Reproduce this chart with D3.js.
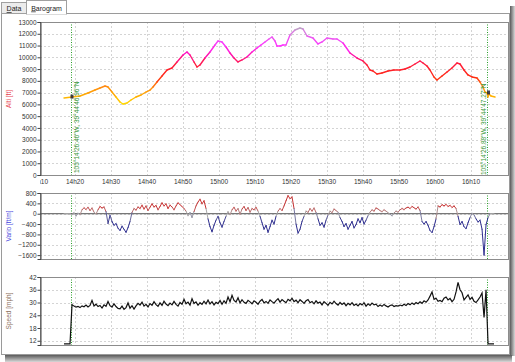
<!DOCTYPE html>
<html><head><meta charset="utf-8">
<script src="https://cdn.jsdelivr.net/npm/d3@7/dist/d3.min.js"></script>
<style>
body{margin:0;background:#fff;}
svg{display:block;font-family:"Liberation Sans",Arial,sans-serif;}
</style>
</head><body>
<svg id="chart" width="515" height="362"></svg>
<script>
// ---------- data ----------
const tabLabels = ["Data", "Barogram"];
const timeTicks = [10, 20, 30, 40, 50, 60, 70, 80, 90, 100, 110, 120, 130]; // minutes after 14h00
const timeLabels = ["14h10","14h20","14h30","14h40","14h50","15h00","15h10","15h20","15h30","15h40","15h50","16h00","16h10"];
const altTicks = [0,1000,2000,3000,4000,5000,6000,7000,8000,9000,10000,11000,12000,13000];
const varioTicks = [800,400,0,-400,-800,-1200,-1600];
const speedTicks = [12,18,24,30,36,42];
const altLabel = "Alti [ft]";
const varioLabel = "Vario [ft/m]";
const speedLabel = "Speed [mph]";
const markerTimes = [18.89, 134.45];
const markerLabels = ["105°14'26.46\"W, 39°44'46.96\"N", "105°14'26.88\"W, 39°44'47.27\"N"];

// altitude (ft) at irregular times (minutes after 14h00)
const altTime = [16.95,19.17,21.39,23.61,25.56,26.95,28.34,29.17,30.28,31.39,32.50,33.34,34.45,35.56,36.95,38.34,39.72,40.84,41.67,42.78,44.17,45.56,46.95,48.34,50.00,51.11,51.95,53.06,53.89,54.72,56.11,57.50,58.89,59.72,60.84,61.95,63.06,64.17,65.28,66.39,67.78,69.17,70.56,71.67,72.78,73.89,74.72,75.56,76.11,76.95,77.78,78.61,79.72,81.11,82.50,83.34,84.45,86.11,87.50,88.61,90.00,91.67,92.78,94.45,96.39,98.34,100.00,101.11,101.95,102.78,103.89,105.28,106.95,108.61,110.28,111.67,113.06,114.45,115.84,116.67,117.78,118.61,119.72,120.56,121.95,123.34,124.72,126.11,126.95,128.06,129.17,130.28,131.67,132.50,133.34,133.89,134.45,134.72,135.00,135.56,136.67];
const altValue = [6543,6628,6713,6968,7222,7392,7562,7477,7052,6628,6203,6033,6118,6373,6628,6798,7052,7222,7477,7902,8412,8922,9092,9602,10196,10451,10196,9602,9177,9347,9941,10451,11046,11386,11301,10876,10366,9941,9602,9772,10026,10451,10791,11046,11301,11556,11726,11386,10961,10961,11046,11046,11896,12321,12491,12406,11811,11641,11131,11301,11641,11556,11556,11216,10366,9941,9687,9347,8922,8837,8582,8667,8837,8922,8922,9007,9177,9432,9687,9517,9262,8922,8327,8072,8412,8752,9092,9517,9432,8922,8497,8327,8242,7902,7477,7052,6968,6628,6883,6713,6628];

// vario & speed sampled every ~33 s starting 14h16m57s
const sampleStart = 16.95;   // minutes after 14h00
const sampleStep = 0.5556;   // minutes
const varioValue = [
0,0,0,0,-30,40,-90,20,-40,150,
230,160,250,120,220,60,-10,150,280,220,
260,80,-380,-60,-300,-450,-380,-560,-650,-480,
-600,-720,-540,-300,50,200,140,260,200,330,
180,300,120,250,380,260,320,150,280,420,
300,380,200,330,260,150,300,420,350,280,
200,100,-80,50,-150,80,300,450,560,380,
500,200,-200,-500,-700,-450,-250,-100,-350,-520,
-300,-100,80,-40,150,250,100,200,-20,180,
280,120,240,60,200,150,250,100,-100,-350,
-600,-450,-720,-500,-250,-400,-100,100,200,120,
300,500,700,580,650,200,-400,-750,-600,-300,
-100,100,50,200,100,220,50,-200,-450,-350,
-520,-250,-50,100,40,180,120,60,-150,-300,
-500,-380,-600,-450,-300,-550,-420,-200,-350,-150,
-400,-250,-80,60,150,100,220,180,120,80,
150,100,40,-20,-80,30,100,60,150,200,
160,220,250,200,280,230,180,260,120,-300,
-400,-300,-450,-650,-730,-500,-200,300,260,350,
300,360,280,320,240,300,200,-100,-420,-300,
-500,-580,-350,-150,20,-50,-200,-320,-250,-600,
-1600,-420,-150,0,0,0];
const speedValue = [
10.5,10.5,10.5,10.5,29,28.3,27.8,28.2,27.6,28.4,
28,28.8,27.9,28.6,31,28.4,29.2,28.1,28.6,27.4,
28.9,28.2,30.5,28.5,27.8,29.4,28.1,27.2,27,28.3,
26.8,27.6,29.8,27.3,28.5,26.9,28.4,29.6,28.8,30.2,
28.3,29.1,27.9,29.5,28.7,30.4,29,28.2,29.8,28.6,
30.6,29.3,28.5,29.7,28.9,30.5,29.1,28.3,30,29.2,
31.5,29.4,30.2,28.8,31.8,29.5,30.3,28.7,29.9,29.1,
30.6,29.4,31.2,29.3,30.4,28.9,30.1,29.5,31,29.2,
30.8,29.6,32.6,30.4,33.4,31,30.2,32.2,29.8,31.3,
30.1,29.6,31,30.3,29.4,30.8,30.1,29.2,30.6,31.4,
29.8,30.5,29.6,31.2,30.4,29.7,30.9,31.8,30.2,31.4,
30.6,29.9,31.5,30.8,32,30.4,31.1,29.9,31.3,30.5,
29.6,30.8,31.4,29.9,30.5,29.4,30.8,29.7,30.2,28.9,
30.4,29.6,28.7,30.1,29.3,30.6,29.5,28.8,30,29.1,
29.8,28.5,29.6,28.9,29.9,28.6,29.3,28.4,29.5,28.8,
29.9,28.3,29.4,28.6,29.7,28.9,29.2,28.1,28.8,28.2,
29.1,28.4,27.9,28.6,28.9,28.1,28.5,28.3,28.8,28.4,
29.2,28.6,29.5,28.9,29.8,29.1,30,29.4,30.3,29.6,
30.8,30.1,31.2,33,35,31.5,32,30.6,31,30.4,
32,32.6,31.2,31.9,30.4,31.5,35,39.5,36,34.6,
31.2,32.4,33.6,31.4,32.4,30.6,30,31.2,32.6,34.5,
23,36,10.5,10.5,10.5,10.5];

// ---------- drawing ----------
const svg = d3.select("#chart");
const L = 40, R = 508;
const x = d3.scaleLinear().domain([10.28, 140.28]).range([L, R]);
const sampleTime = varioValue.map((_, i) => sampleStart + i * sampleStep);

const panels = [
  {top: 22, bottom: 175, y: d3.scaleLinear().domain([0, 13000]).range([175, 22]), ticks: altTicks, label: altLabel, labelColor: "#e8454f", labelY: 99},
  {top: 193, bottom: 259, y: d3.scaleLinear().domain([-1750, 800]).range([259, 193]), ticks: varioTicks, label: varioLabel, labelColor: "#4a4ae0", labelY: 226},
  {top: 277, bottom: 345, y: d3.scaleLinear().domain([10, 42]).range([345, 277]), ticks: speedTicks, label: speedLabel, labelColor: "#8a6e5a", labelY: 311}
];

// window frame & shadow
const defs = svg.append("defs");
const gR = defs.append("linearGradient").attr("id","shR").attr("x1",0).attr("x2",1).attr("y1",0).attr("y2",0);
gR.append("stop").attr("offset",0).attr("stop-color","#5a5a5a");
gR.append("stop").attr("offset",1).attr("stop-color","#d8d8d8");
const gB = defs.append("linearGradient").attr("id","shB").attr("x1",0).attr("x2",0).attr("y1",0).attr("y2",1);
gB.append("stop").attr("offset",0).attr("stop-color","#5a5a5a");
gB.append("stop").attr("offset",1).attr("stop-color","#d8d8d8");
svg.append("rect").attr("x",510).attr("y",6).attr("width",5).attr("height",350).attr("fill","url(#shR)");
svg.append("rect").attr("x",5).attr("y",355).attr("width",507).attr("height",7).attr("fill","url(#shB)");
svg.append("rect").attr("x",1.5).attr("y",13.5).attr("width",508).attr("height",341).attr("fill","#fff").attr("stroke","#9a9a9a");

// tabs
const tabs = svg.append("g");
tabs.append("rect").attr("x",1.5).attr("y",2.5).attr("width",25).attr("height",11).attr("fill","#ececec").attr("stroke","#a0a0a0");
tabs.append("rect").attr("x",26.5).attr("y",0.5).attr("width",40).attr("height",13.5).attr("fill","#fff").attr("stroke","#a0a0a0");
tabs.append("line").attr("x1",27).attr("x2",66).attr("y1",13.5).attr("y2",13.5).attr("stroke","#fff").attr("stroke-width",1.5);
[[14, 11, tabLabels[0]], [46.5, 10.5, tabLabels[1]]].forEach(([cx, cy, t]) => {
  const tx = tabs.append("text").attr("x", cx).attr("y", cy).attr("text-anchor","middle").attr("font-size","7px").attr("fill","#222");
  tx.append("tspan").attr("text-decoration","underline").text(t[0]);
  tx.append("tspan").text(t.slice(1));
});

// clip for x labels
defs.append("clipPath").attr("id","xclip").append("rect").attr("x",L).attr("y",170).attr("width",R-L+2).attr("height",20);
defs.append("clipPath").attr("id","pclip").append("rect").attr("x",L).attr("y",0).attr("width",R-L).attr("height",362);

panels.forEach(p => {
  const g = svg.append("g");
  // grid
  g.selectAll(".hg").data(p.ticks).join("line")
    .attr("x1", L).attr("x2", R).attr("y1", d => Math.round(p.y(d)) + 0.5).attr("y2", d => Math.round(p.y(d)) + 0.5)
    .attr("stroke", "#c9c9c9").attr("stroke-dasharray", "2,2").attr("stroke-width", 0.8);
  g.selectAll(".vg").data(timeTicks.filter(t => x(t) > L + 1)).join("line")
    .attr("x1", d => Math.round(x(d)) + 0.5).attr("x2", d => Math.round(x(d)) + 0.5).attr("y1", p.top).attr("y2", p.bottom)
    .attr("stroke", "#c9c9c9").attr("stroke-dasharray", "2,2").attr("stroke-width", 0.8);
  // markers
  g.selectAll(".mk").data(markerTimes).join("line")
    .attr("x1", d => Math.round(x(d)) + 0.5).attr("x2", d => Math.round(x(d)) + 0.5).attr("y1", p.top).attr("y2", p.bottom)
    .attr("stroke", "#2aa02a").attr("stroke-dasharray", "1,1.5").attr("stroke-width", 1);
  // box
  g.append("rect").attr("x", L + 0.5).attr("y", p.top + 0.5).attr("width", R - L).attr("height", p.bottom - p.top)
    .attr("fill", "none").attr("stroke", "#8c8c8c");
  // y axis
  const ax = g.append("g").attr("transform", `translate(${L + 0.5},0)`)
    .call(d3.axisLeft(p.y).tickValues(p.ticks).tickSize(3).tickPadding(1).tickFormat(d3.format("d")));
  ax.select(".domain").attr("stroke", "#444");
  ax.selectAll(".tick line").attr("stroke", "#444");
  ax.selectAll("text").attr("font-size", "6.5px").attr("fill", "#333").attr("font-family", "Liberation Sans, Arial, sans-serif");
  // y label
  g.append("text").attr("transform", `translate(10.5,${p.labelY}) rotate(-90)`).attr("text-anchor", "middle")
    .attr("font-size", "6.5px").attr("fill", p.labelColor).text(p.label);
});

// x labels
svg.append("g").attr("clip-path", "url(#xclip)").selectAll("text").data(timeTicks).join("text")
  .attr("x", d => x(d)).attr("y", 184).attr("text-anchor", "middle").attr("font-size", "6.5px").attr("fill", "#333")
  .text((d, i) => timeLabels[i]);

// zero line in vario
const vp = panels[1];
svg.append("line").attr("x1", L).attr("x2", R).attr("y1", vp.y(0)).attr("y2", vp.y(0)).attr("stroke", "#555").attr("stroke-width", 1);

// coloured line helper
function segLine(times, vals, yS, colorFn, w) {
  const g = svg.append("g").attr("clip-path", "url(#pclip)");
  const segs = d3.pairs(d3.zip(times, vals));
  g.selectAll("line").data(segs).join("line")
    .attr("x1", d => x(d[0][0])).attr("y1", d => yS(d[0][1]))
    .attr("x2", d => x(d[1][0])).attr("y2", d => yS(d[1][1]))
    .attr("stroke", d => colorFn((d[0][1] + d[1][1]) / 2))
    .attr("stroke-width", w).attr("stroke-linecap", "round");
}

const altColor = d3.scaleLinear()
  .domain([6000, 6700, 7500, 8300, 9500, 10300, 11000, 12000, 12500])
  .range(["#ffdc00", "#ffb000", "#ff8a10", "#ff2a10", "#ff1a40", "#ff10c0", "#ff30ff", "#e070e8", "#b8a8c0"])
  .clamp(true);
segLine(altTime, altValue, panels[0].y, altColor, 1.4);

const varioColor = d3.scaleLinear().domain([-250, 0, 250]).range(["#2c2c8e", "#a8a8a8", "#c83434"]).clamp(true);
segLine(sampleTime, varioValue, vp.y, varioColor, 1);

const sLine = d3.line().x((d, i) => x(sampleTime[i])).y(d => panels[2].y(d));
svg.append("path").attr("d", sLine(speedValue)).attr("fill", "none").attr("stroke", "#111").attr("stroke-width", 1.2);

// position markers on altitude
const yA = panels[0].y;
function altAt(t) {
  const i = d3.bisectLeft(altTime, t);
  const t0 = altTime[i-1], t1 = altTime[i];
  return altValue[i-1] + (altValue[i]-altValue[i-1])*(t-t0)/(t1-t0);
}
markerTimes.forEach((t, k) => {
  const cx = x(t) + (k === 0 ? 1 : 1.5), cy = yA(altAt(t));
  svg.append("rect").attr("x", cx - 1.5).attr("y", cy - 2.5).attr("width", 3).attr("height", 4).attr("fill", "#223").attr("opacity", 0.85);
});

// coordinate labels
svg.append("text").attr("transform", `translate(${x(markerTimes[0]) + 8},173) rotate(-90)`)
  .attr("font-size", "6.5px").attr("fill", "#3a9a3a").text(markerLabels[0]);
svg.append("text").attr("transform", `translate(${x(markerTimes[1]) - 1},175) rotate(-90)`)
  .attr("font-size", "6.5px").attr("fill", "#3a9a3a").text(markerLabels[1]);
</script>
</body></html>
